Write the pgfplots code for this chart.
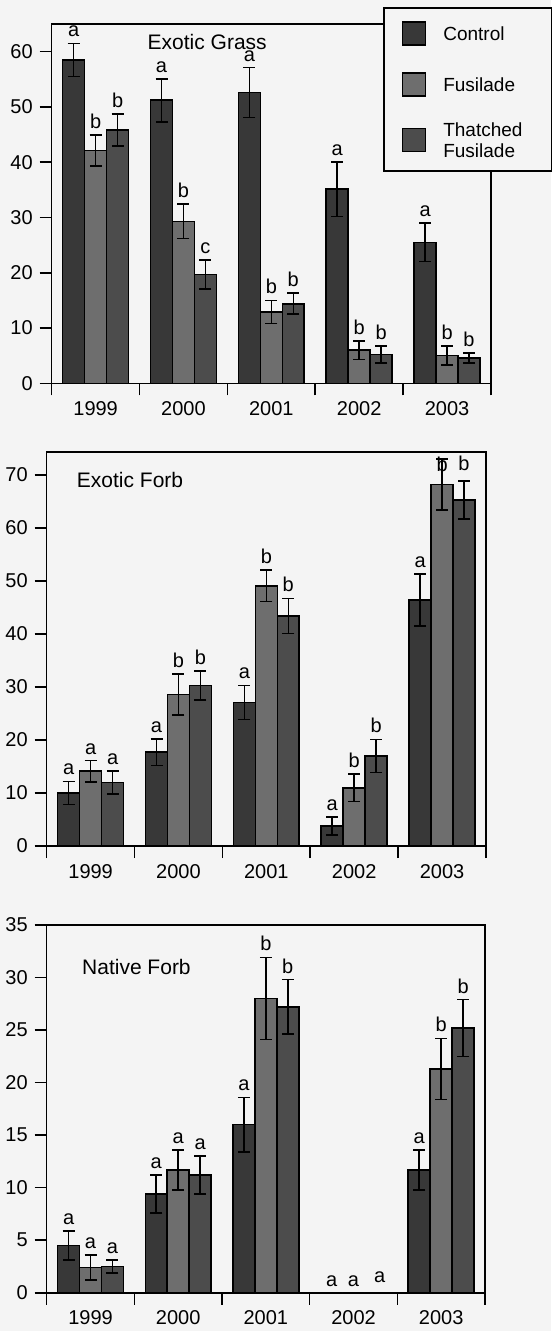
\documentclass[border=0pt]{standalone}
\usepackage{fontspec}
\setmainfont{Liberation Sans}
\usepackage{pgfplots}
\pgfplotsset{compat=1.18}
\definecolor{ctrl}{gray}{0.22}
\definecolor{fus}{gray}{0.43}
\definecolor{thatch}{gray}{0.30}
\definecolor{bg}{gray}{0.955}
\pgfplotsset{
  panel/.style={
    scale only axis, clip=false,
    xmin=0.5, xmax=5.5, ymin=0,
    axis line style={line width=0.8pt},
    tick style={line width=0.8pt, black},
    tick align=outside, tick pos=left,
    major tick length=6pt,
    xtick={0.5,1.5,2.5,3.5,4.5,5.5}, xticklabels={},
    extra x ticks={1,2,3,4,5},
    extra x tick labels={1999,2000,2001,2002,2003},
    extra x tick style={major tick length=0pt, xticklabel style={yshift=-5.5pt}},
    ticklabel style={font=\fontsize{10}{12}\selectfont},
    /pgf/number format/assume math mode=true,
  },
  bars/.style={ybar, bar width=0.25, bar shift=0pt, draw=black, line width=0.8pt, fill=#1, forget plot,
    error bars/.cd, y dir=both, y explicit,
    error bar style={line width=0.8pt, black},
    error mark options={rotate=90, mark size=3pt, line width=0.8pt, black}},
  letters/.style={forget plot, draw=none, mark=none, nodes near coords, point meta=explicit symbolic,
    every node near coord/.append style={anchor=south, inner sep=3pt, text=black, font=\fontsize{10}{12}\selectfont}},
  sqleg/.style={legend image code/.code={\draw[##1] (0pt,-5.75pt) rectangle (11.5pt,5.75pt);}},
}
\begin{document}
\begin{tikzpicture}
\fill[bg] (0,0) rectangle (275.5pt,-665.5pt);
\useasboundingbox (0,0) rectangle (275.5pt,-665.5pt);

% ---------- Panel 1: Exotic Grass ----------
\begin{axis}[panel, at={(25.85pt,-191.65pt)}, width=219.65pt, height=179.65pt,
  ymax=65, ytick={0,10,...,60},
  legend cell align=left,
  legend style={at={(0.754,1.047)}, anchor=north west, draw=black, line width=0.8pt, fill=bg,
    inner xsep=9pt, inner ysep=6.75pt, row sep=13pt, column sep=8.5pt,
    nodes={inner sep=0pt, text depth=}, font=\fontsize{9.5}{10.5}\selectfont}]
\addlegendimage{sqleg, fill=ctrl, draw=black, line width=0.8pt}
\addlegendentry{\parbox{45pt}{Control}}
\addlegendimage{sqleg, fill=fus, draw=black, line width=0.8pt}
\addlegendentry{\parbox{45pt}{Fusilade}}
\addlegendimage{sqleg, fill=thatch, draw=black, line width=0.8pt}
\addlegendentry{\parbox{45pt}{Thatched\\Fusilade}}

\addplot[bars=ctrl] table[x=x, y=y, y error=e] {
x y e
0.75 58.5 3.0
1.75 51.2 3.9
2.75 52.6 4.5
3.75 35.1 4.9
4.75 25.5 3.5
};
\addplot[bars=fus] table[x=x, y=y, y error=e] {
x y e
1 42.1 2.8
2 29.3 3.1
3 12.9 2.1
4 6.0 1.7
5 5.0 1.7
};
\addplot[bars=thatch] table[x=x, y=y, y error=e] {
x y e
1.25 45.8 2.9
2.25 19.7 2.6
3.25 14.4 1.9
4.25 5.2 1.5
5.25 4.6 0.9
};
\addplot[letters] table[x=x, y=y, meta=l] {
x y l
0.75 61.5 a
1.75 55.1 a
2.75 57.1 a
3.75 40.0 a
4.75 29.0 a
1 44.9 b
2 32.4 b
3 15.0 b
4 7.7 b
5 6.7 b
1.25 48.7 b
2.25 22.3 c
3.25 16.3 b
4.25 6.7 b
5.25 5.5 b
};
\node[font=\fontsize{10.5}{12}\selectfont, inner sep=0pt] at (axis cs:2.27,61.8) {Exotic Grass};
\end{axis}

% ---------- Panel 2: Exotic Forb ----------
\begin{axis}[panel, at={(23.35pt,-423pt)}, width=219.65pt, height=197.15pt,
  ymax=74.4, ytick={0,10,...,70}]
\addplot[bars=ctrl] table[x=x, y=y, y error=e] {
x y e
0.75 10.0 2.2
1.75 17.7 2.5
2.75 27.1 3.2
3.75 3.8 1.7
4.75 46.4 4.9
};
\addplot[bars=fus] table[x=x, y=y, y error=e] {
x y e
1 14.1 2.0
2 28.6 3.9
3 49.1 3.0
4 11.0 2.6
5 68.2 4.8
};
\addplot[bars=thatch] table[x=x, y=y, y error=e] {
x y e
1.25 12.0 2.2
2.25 30.3 2.7
3.25 43.4 3.3
4.25 17.0 3.1
5.25 65.3 3.6
};
\addplot[letters] table[x=x, y=y, meta=l] {
x y l
0.75 12.2 a
1.75 20.2 a
2.75 30.3 a
3.75 5.5 a
4.75 51.3 a
1 16.1 a
2 32.5 b
3 52.1 b
4 13.6 b
5 69.4 b
1.25 14.2 a
2.25 33.0 b
3.25 46.7 b
4.25 20.1 b
5.25 69.7 b
};
\node[font=\fontsize{10.5}{12}\selectfont, inner sep=0pt, anchor=west] at (axis cs:0.84,69.1) {Exotic Forb};
\end{axis}

% ---------- Panel 3: Native Forb ----------
\begin{axis}[panel, at={(23.35pt,-646.35pt)}, width=219.15pt, height=183.85pt,
  ymax=35, ytick={0,5,...,35}]
\addplot[bars=ctrl] table[x=x, y=y, y error=e] {
x y e
0.75 4.5 1.4
1.75 9.4 1.8
2.75 16.0 2.6
3.75 0 0
4.75 11.7 1.9
};
\addplot[bars=fus] table[x=x, y=y, y error=e] {
x y e
1 2.4 1.2
2 11.7 1.9
3 28.0 3.9
4 0 0
5 21.3 2.9
};
\addplot[bars=thatch] table[x=x, y=y, y error=e] {
x y e
1.25 2.5 0.6
2.25 11.2 1.8
3.25 27.2 2.6
4.25 0 0
5.25 25.2 2.7
};
\addplot[letters] table[x=x, y=y, meta=l] {
x y l
0.75 5.9 a
1.75 11.2 a
2.75 18.6 a
3.75 0 a
4.75 13.6 a
1 3.6 a
2 13.6 a
3 31.9 b
4 0 a
5 24.2 b
1.25 3.1 a
2.25 13.0 a
3.25 29.8 b
4.3 0.3 a
5.25 27.9 b
};
\node[font=\fontsize{10.5}{12}\selectfont, inner sep=0pt, anchor=west] at (axis cs:0.90,31.0) {Native Forb};
\end{axis}
\end{tikzpicture}
\end{document}
